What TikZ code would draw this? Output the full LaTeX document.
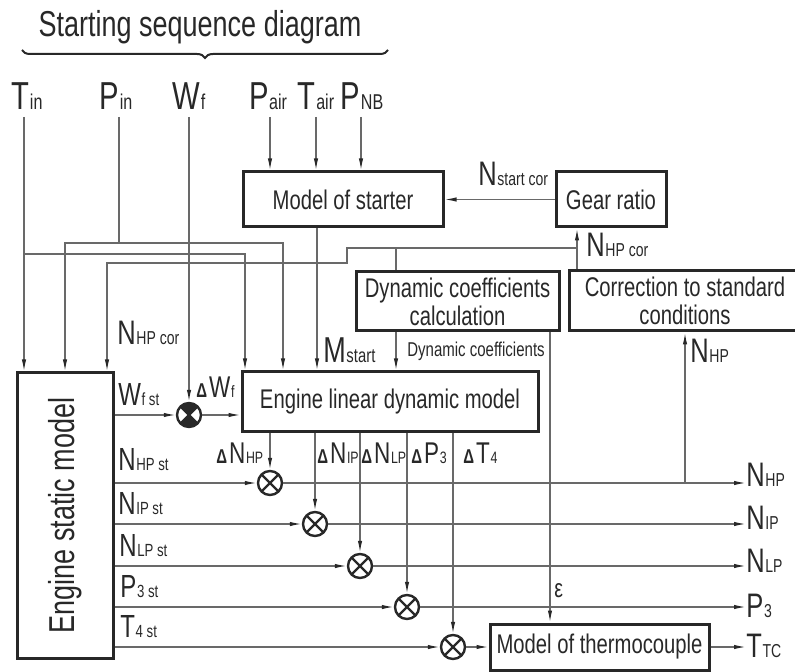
\documentclass[tikz,border=0pt]{standalone}
\usepackage{fontspec}
\setmainfont{Liberation Sans}[FakeStretch=0.75]
\usepackage{graphicx}
\usetikzlibrary{arrows.meta, positioning, decorations.pathreplacing}
\definecolor{inkgray}{RGB}{40,40,40}
\definecolor{wiregray}{RGB}{105,105,105}
\newcommand{\dlt}{{\fontsize{10}{10}\selectfont\bfseries Δ}\kern1pt}
\newcommand{\lsub}[1]{\kern0.3pt\scalebox{0.55}{#1}}

\begin{document}
\begin{tikzpicture}[x=0.5pt, y=-0.5pt,
  mbox/.style={draw=inkgray, line width=1.5pt, inner sep=0pt, align=center, text=inkgray, font=\fontsize{13.5}{14}\selectfont},
  wire/.style={draw=wiregray, line width=0.65pt},
  arr/.style={wire, -{Latex[length=6pt,width=2.2pt,color=inkgray]}},
  sumc/.style={circle, draw=inkgray, line width=1.2pt, minimum size=12pt, inner sep=0pt,
    path picture={\draw[inkgray, line width=1.2pt] (path picture bounding box.north west) -- (path picture bounding box.south east)
      (path picture bounding box.north east) -- (path picture bounding box.south west);}},
  lbl/.style={text=inkgray, inner sep=0pt, anchor=base west},
  inlbl/.style={lbl, anchor=base, font=\fontsize{19.5}{20}\selectfont},
  outlbl/.style={lbl, anchor=west, font=\fontsize{17}{18}\selectfont},
  stlbl/.style={lbl, font=\fontsize{16}{17}\selectfont},
  dlbl/.style={lbl, font=\fontsize{15}{16}\selectfont}
]
  \useasboundingbox (0,0) rectangle (795,672);
  \clip (0,0) rectangle (795,672);

  \node[text=inkgray, font=\fontsize{18}{20}\selectfont] (title) at (200,27) {Starting sequence diagram};
  \draw[inkgray, line width=1pt, decorate, decoration={brace, amplitude=4pt}] (388,50) -- (22,50);

  % inputs
  \node[inlbl] (tin) at (27,110) {T\lsub{in}};
  \node[inlbl] (pin) at (116,110) {P\lsub{in}};
  \node[inlbl] (wf) at (189,110) {W\lsub{f}};
  \node[inlbl] (pair) at (268,110) {P\lsub{air}};
  \node[inlbl] (tair) at (316,110) {T\lsub{air}};
  \node[inlbl] (pnb) at (362,110) {P\lsub{NB}};
  \coordinate (tin0) at (24,117);
  \coordinate (pin0) at (119,117);
  \coordinate (wf0) at (189,117);
  \coordinate (pair0) at (270,117);
  \coordinate (tair0) at (316,117);
  \coordinate (pnb0) at (361,117);

  % blocks
  \node[mbox, minimum width=100pt, minimum height=27.5pt] (starter) at (343,199.5) {Model of starter};
  \node[mbox, minimum width=55pt, minimum height=27.5pt] (gear) at (611,199.5) {Gear ratio};
  \node[mbox, minimum width=101.5pt, minimum height=29.5pt] (dyncoef) at (457.5,301.5) {Dynamic coefficients\\calculation};
  \node[mbox, minimum width=116pt, minimum height=30pt] (corr) at (685,301) {Correction to standard\\conditions};
  \node[mbox, minimum width=148pt, minimum height=29.5pt, font=\fontsize{13.5}{14}\selectfont] (eldm) at (390,401.5) {Engine linear dynamic model};
  \node[mbox, minimum width=48pt, minimum height=142.5pt, font=\fontsize{18}{19}\selectfont] (esm) at (65,515.5) {\rotatebox{90}{Engine static model}};
  \node[mbox, minimum width=109.5pt, minimum height=23pt] (thermo) at (599.5,647) {Model of thermocouple};

  \node[sumc] (s0) at (189,415) {};
  \node[sumc] (s1) at (270,483) {};
  \node[sumc] (s2) at (315,524) {};
  \node[sumc] (s3) at (360,566) {};
  \node[sumc] (s4) at (407,607) {};
  \node[sumc] (s5) at (453,647) {};
  \fill[inkgray] (s0.center) -- ++(45:6pt) arc[start angle=45, end angle=135, radius=6pt] -- cycle;
  \fill[inkgray] (s0.center) -- ++(225:6pt) arc[start angle=225, end angle=315, radius=6pt] -- cycle;

  \node[outlbl] (onhp) at (746,475) {N\lsub{HP}};
  \node[outlbl] (onip) at (746,518) {N\lsub{IP}};
  \node[outlbl] (onlp) at (746,561) {N\lsub{LP}};
  \node[outlbl] (op3) at (746,606) {P\lsub{3}};
  \node[outlbl] (ottc) at (746,646) {T\lsub{TC}};

  % input wiring
  \coordinate (cT) at (245,254);
  \coordinate (pL) at (65,243);
  \coordinate (pR) at (283,243);
  \draw[arr] (tin0) -- (tin0 |- esm.north);
  \draw[arr] (tin0 |- cT) -| (cT |- eldm.north);
  \draw[wire] (pin0) -- (pin0 |- pL);
  \draw[arr] (pin0 |- pL) -| (pL |- esm.north);
  \draw[arr] (pin0 |- pR) -| (pR |- eldm.north);
  \draw[arr] (wf0) -- (s0);
  \draw[arr] (pair0) -- (pair0 |- starter.north);
  \draw[arr] (tair0) -- (tair0 |- starter.north);
  \draw[arr] (pnb0) -- (pnb0 |- starter.north);

  % starter and corrections
  \draw[arr] (gear) -- (starter);
  \draw[arr] ([xshift=-13pt]starter.south) -- ([xshift=-13pt]starter.south |- eldm.north);
  \draw[arr] ([xshift=-17pt]gear.south |- corr.north) -- ([xshift=-17pt]gear.south);
  \coordinate (nc) at (577,248);
  \coordinate (nk) at (347,248);
  \coordinate (nd) at (107,263);
  \draw[arr] (nc) -- (nk) |- (nd) -- (nd |- esm.north);
  \draw[wire] ([xshift=-30.75pt]dyncoef.north |- nc) -- ([xshift=-30.75pt]dyncoef.north);
  \draw[arr] ([xshift=-30.75pt]dyncoef.south) -- ([xshift=-30.75pt]dyncoef.south |- eldm.north);
  \draw[arr] ([xshift=46.25pt]dyncoef.south) -- ([xshift=46.25pt]dyncoef.south |- thermo.north);
  \draw[arr] (s1 -| corr.south) -- (corr.south);

  % static model outputs
  \draw[arr] (esm.east |- s0) -- (s0);
  \draw[arr] (s0) -- (s0 -| eldm.west);
  \foreach \s/\o in {s1/onhp, s2/onip, s3/onlp, s4/op3}{
    \draw[arr] (esm.east |- \s) -- (\s);
    \draw[arr] (\s) -- (\s -| \o.west);
  }
  \draw[arr] (esm.east |- s5) -- (s5);
  \draw[arr] (s5) -- (s5 -| thermo.west);
  \draw[arr] (thermo.east) -- (thermo.east -| ottc.west);
  \foreach \s in {s1, s2, s3, s4, s5}
    \draw[arr] (eldm.south -| \s) -- (\s);

  % labels
  \node[lbl, font=\fontsize{17}{18}\selectfont] (lnstart) at (478,186) {N\lsub{start cor}};
  \node[lbl, font=\fontsize{17}{18}\selectfont] (lnhpcor) at (586,257) {N\lsub{HP cor}};
  \node[lbl, font=\fontsize{17}{18}\selectfont] (lnhpcorb) at (117,345) {N\lsub{HP cor}};
  \node[lbl, font=\fontsize{18}{19}\selectfont] (lmstart) at (323,363) {M\lsub{start}};
  \node[lbl, font=\fontsize{10}{11}\selectfont] (ldyn) at (407,357) {Dynamic coefficients};
  \node[lbl, font=\fontsize{17}{18}\selectfont] (lnhp) at (690,363) {N\lsub{HP}};
  \node[lbl, font=\fontsize{13}{14}\selectfont] (leps) at (554,597) {ε};

  \node[dlbl] (ldwf) at (196,398) {\dlt W\lsub{f}};
  \node[dlbl] (ldnhp) at (216,463) {\dlt N\lsub{HP}};
  \node[dlbl] (ldnip) at (317,463) {\dlt N\lsub{IP}};
  \node[dlbl] (ldnlp) at (361,463) {\dlt N\lsub{LP}};
  \node[dlbl] (ldp3) at (411,463) {\dlt P\lsub{3}};
  \node[dlbl] (ldt4) at (463,463) {\dlt T\lsub{4}};

  \node[stlbl] (lwfst) at (118,405) {W\lsub{f st}};
  \node[stlbl] (lnhpst) at (118,470) {N\lsub{HP st}};
  \node[stlbl] (lnipst) at (118,514) {N\lsub{IP st}};
  \node[stlbl] (lnlpst) at (119,556) {N\lsub{LP st}};
  \node[stlbl] (lp3st) at (120,597) {P\lsub{3 st}};
  \node[stlbl] (lt4st) at (120,637) {T\lsub{4 st}};
\end{tikzpicture}
\end{document}
